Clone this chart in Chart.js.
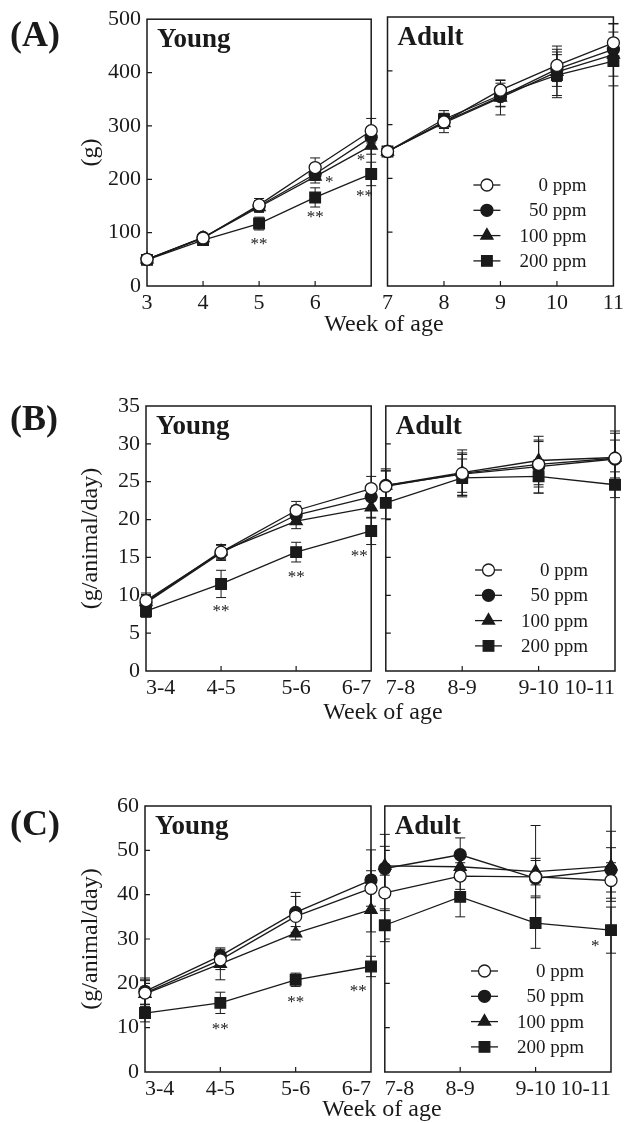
<!DOCTYPE html>
<html>
<head>
<meta charset="utf-8">
<script src="https://cdn.jsdelivr.net/npm/chart.js@4.4.1/dist/chart.umd.min.js"></script>
<style>
  html, body { margin: 0; padding: 0; background: #fff; }
  #page { position: relative; width: 628px; height: 1123px; overflow: hidden; }
  canvas { position: absolute; }
  .xlab {
    position: absolute; transform: translateX(-50%);
    font: 24px "Liberation Serif", "Times New Roman", serif;
    line-height: 1; color: #1a1a1a; white-space: nowrap;
  }
</style>
</head>
<body>
<div id="page">
  <canvas id="aYoung"></canvas>
  <canvas id="aAdult"></canvas>
  <canvas id="bYoung"></canvas>
  <canvas id="bAdult"></canvas>
  <canvas id="cYoung"></canvas>
  <canvas id="cAdult"></canvas>
  <div class="xlab" style="left:384px;top:311px">Week of age</div>
  <div class="xlab" style="left:383px;top:699px">Week of age</div>
  <div class="xlab" style="left:382px;top:1096px">Week of age</div>
</div>
<script>
// ── Data ──
const DOSES = ["0 ppm", "50 ppm", "100 ppm", "200 ppm"];

// (A) body weight, g
const weekYoung = [3, 4, 5, 6, 7];
const weekAdult = [7, 8, 9, 10, 11];
const weightYoung = [
  [50, 90, 152, 222, 291],
  [50, 91, 150, 210, 279],
  [50, 90, 148, 205, 263],
  [49, 86, 117, 166, 210]
];
const weightYoungSD = [
  [3, 4, 12, 18, 23],
  [3, 4, 10, 12, 18],
  [3, 4, 10, 12, 16],
  [3, 4, 12, 18, 22]
];
const weightAdult = [
  [250, 305, 364, 410, 452],
  [250, 305, 352, 403, 440],
  [250, 303, 350, 398, 430],
  [250, 310, 355, 392, 418]
];
const weightAdultSD = [
  [4, 12, 19, 30, 35],
  [4, 12, 18, 32, 32],
  [4, 18, 32, 48, 58],
  [4, 16, 22, 38, 28]
];
const weightStarsYoung = [
  { x: 5, y: 87, t: "**" },
  { x: 6, y: 136, t: "**" },
  { x: 6.25, y: 203, t: "*" },
  { x: 6.82, y: 244, t: "*" },
  { x: 6.88, y: 177, t: "**" }
];

// (B) food intake, g/animal/day
const periodYoung = ["3-4", "4-5", "5-6", "6-7"];
const periodAdult = ["7-8", "8-9", "9-10", "10-11"];
const foodYoung = [
  [9.3, 15.7, 21.2, 24.1],
  [9.0, 15.6, 20.6, 23.0],
  [9.1, 15.8, 19.8, 21.6],
  [7.9, 11.5, 15.7, 18.5]
];
const foodYoungSD = [
  [1.0, 1.0, 1.2, 1.6],
  [1.0, 1.0, 1.2, 1.5],
  [1.0, 0.9, 1.0, 1.4],
  [0.8, 1.8, 1.3, 1.8]
];
const foodAdult = [
  [24.4, 26.1, 27.3, 28.1],
  [24.5, 26.0, 27.0, 28.0],
  [24.5, 26.2, 27.8, 28.2],
  [22.2, 25.5, 25.7, 24.6]
];
const foodAdultSD = [
  [2.0, 2.5, 3.0, 3.3],
  [2.2, 2.8, 3.5, 2.5],
  [2.0, 3.0, 3.2, 3.5],
  [2.1, 2.5, 2.2, 1.7]
];
const foodStarsYoung = [
  { x: 1, y: 8.5, t: "**" },
  { x: 2, y: 12.9, t: "**" },
  { x: 2.84, y: 15.7, t: "**" }
];

// (C) water intake, g/animal/day
const waterYoung = [
  [17.8, 25.3, 35.1, 41.4],
  [18.2, 26.2, 36.0, 43.3],
  [17.6, 24.4, 31.3, 36.6],
  [13.3, 15.6, 20.8, 23.8]
];
const waterYoungSD = [
  [3.0, 2.2, 4.5, 4.0],
  [3.0, 1.5, 4.5, 6.8],
  [3.0, 3.6, 1.5, 5.0],
  [2.0, 2.4, 1.5, 2.3]
];
const waterAdult = [
  [40.4, 44.2, 44.0, 43.2],
  [45.9, 49.0, 43.7, 45.6],
  [46.5, 46.3, 45.2, 46.4],
  [33.1, 39.5, 33.6, 32.0]
];
const waterAdultSD = [
  [4.0, 3.0, 11.6, 4.0],
  [5.0, 3.8, 4.0, 5.0],
  [7.1, 3.0, 3.0, 7.9],
  [3.7, 4.5, 5.7, 5.2]
];
const waterStarsYoung = [
  { x: 1, y: 10.6, t: "**" },
  { x: 2, y: 16.7, t: "**" },
  { x: 2.83, y: 19.2, t: "**" }
];
const waterStarsAdult = [
  { x: 2.79, y: 29.3, t: "*" }
];

// ── Styles ──
const SERIF = "'Liberation Serif','Times New Roman',serif";
const INK = "#1a1a1a";
const MARKS = [
  { pointStyle: "circle", radius: 6, fill: "#fff" },
  { pointStyle: "circle", radius: 6, fill: INK },
  { pointStyle: "triangle", radius: 7, fill: INK },
  { pointStyle: "rect", radius: 7.5, fill: INK }
];

function buildDatasets(means, sds, xs) {
  return means.map((vals, k) => ({
    label: DOSES[k],
    data: xs ? vals.map((v, i) => ({ x: xs[i], y: v })) : vals,
    sd: sds[k],
    borderColor: INK,
    borderWidth: 1.3,
    pointStyle: MARKS[k].pointStyle,
    pointRadius: MARKS[k].radius,
    pointBackgroundColor: MARKS[k].fill,
    pointBorderColor: INK,
    pointBorderWidth: 1.3,
    tension: 0,
    clip: false
  }));
}

// ── Box, inward ticks, error bars, tags, stars, legend ──
const framePlugin = {
  id: "frame",
  beforeDatasetsDraw(chart) {
    const { ctx, chartArea: a, scales: { x, y } } = chart;
    ctx.save();
    ctx.strokeStyle = INK;
    ctx.lineWidth = 1.5;
    ctx.strokeRect(a.left, a.top, a.right - a.left, a.bottom - a.top);
    ctx.lineWidth = 1.2;
    ctx.beginPath();
    y.ticks.forEach((t) => {
      if (t.value <= y.min || t.value >= y.max) return;
      const py = y.getPixelForValue(t.value);
      ctx.moveTo(a.left, py);
      ctx.lineTo(a.left + 5, py);
    });
    x.ticks.forEach((t, i) => {
      if (i === 0 || i === x.ticks.length - 1) return;
      const px = x.getPixelForTick(i);
      ctx.moveTo(px, a.bottom);
      ctx.lineTo(px, a.bottom - 5);
    });
    ctx.stroke();
    // error bars
    ctx.lineWidth = 1;
    chart.data.datasets.forEach((ds, di) => {
      const meta = chart.getDatasetMeta(di);
      meta.data.forEach((pt, i) => {
        const v = typeof ds.data[i] === "object" ? ds.data[i].y : ds.data[i];
        const hi = y.getPixelForValue(v + ds.sd[i]);
        const lo = y.getPixelForValue(v - ds.sd[i]);
        ctx.beginPath();
        ctx.moveTo(pt.x, hi); ctx.lineTo(pt.x, lo);
        ctx.moveTo(pt.x - 5, hi); ctx.lineTo(pt.x + 5, hi);
        ctx.moveTo(pt.x - 5, lo); ctx.lineTo(pt.x + 5, lo);
        ctx.stroke();
      });
    });
    ctx.restore();
  },
  afterDraw(chart, args, o) {
    const { ctx, chartArea: a, scales: { x, y } } = chart;
    ctx.save();
    ctx.fillStyle = INK;
    ctx.textBaseline = "alphabetic";
    if (o.letter) {
      ctx.font = `bold 36px ${SERIF}`;
      ctx.textAlign = "left";
      ctx.fillText(o.letter, 10, o.letterY);
    }
    if (o.tag) {
      ctx.font = `bold 27px ${SERIF}`;
      ctx.textAlign = "left";
      ctx.fillText(o.tag, a.left + 10, a.top + 28);
    }
    (o.stars || []).forEach((s) => {
      ctx.font = `17px ${SERIF}`;
      ctx.textAlign = "center";
      ctx.fillText(s.t, x.getPixelForValue(s.x), y.getPixelForValue(s.y) + 9);
    });
    if (o.legend) {
      chart.data.datasets.forEach((ds, k) => {
        const ry = a.bottom - 101 + k * 25.3;
        ctx.strokeStyle = INK;
        ctx.lineWidth = 1.3;
        ctx.beginPath();
        ctx.moveTo(a.right - 140, ry);
        ctx.lineTo(a.right - 113, ry);
        ctx.stroke();
        ctx.fillStyle = MARKS[k].fill;
        Chart.helpers.drawPoint(ctx, {
          pointStyle: MARKS[k].pointStyle, radius: MARKS[k].radius,
          rotation: 0, borderWidth: 1.3
        }, a.right - 126.5, ry);
        ctx.fillStyle = INK;
        ctx.font = `19px ${SERIF}`;
        ctx.textAlign = "right";
        ctx.textBaseline = "middle";
        ctx.fillText(ds.label, a.right - 27, ry + 1);
        ctx.textBaseline = "alphabetic";
      });
    }
    ctx.restore();
  }
};

// ── Chart factory ──
function makeChart(p) {
  const cv = document.getElementById(p.id);
  cv.width = p.box.width;
  cv.height = p.box.height;
  cv.style.left = p.box.left + "px";
  cv.style.top = p.box.top + "px";
  const area = p.area;
  const yWidth = p.showY ? area.left - p.box.left : 0;
  const xScale = {
    type: p.xType,
    offset: false,
    ticks: {
      color: INK,
      font: { family: SERIF, size: 22, lineHeight: 1.2 },
      padding: 4,
      autoSkip: false,
      maxRotation: 0,
      align: p.xAlign || "center"
    },
    grid: { display: false, drawTicks: false },
    border: { display: false },
    afterFit: (s) => { s.height = p.box.top + p.box.height - area.bottom; }
  };
  if (p.xType === "linear") {
    xScale.min = p.xMin;
    xScale.max = p.xMax;
    xScale.ticks.stepSize = 1;
    if (p.hideX !== undefined) {
      const hide = p.hideX;
      xScale.ticks.callback = (v) => (v === hide ? "" : v);
    }
  }
  return new Chart(cv, {
    type: "line",
    data: { labels: p.labels, datasets: p.datasets },
    options: {
      responsive: false,
      animation: false,
      events: [],
      layout: {
        padding: {
          top: area.top - p.box.top,
          right: p.box.left + p.box.width - area.right,
          bottom: 0,
          left: p.showY ? 0 : area.left - p.box.left
        }
      },
      scales: {
        x: xScale,
        y: {
          min: 0,
          max: p.yMax,
          ticks: {
            display: p.showY,
            stepSize: p.yStep,
            color: INK,
            font: { family: SERIF, size: 22, lineHeight: 1.2 },
            padding: 6
          },
          grid: { display: false, drawTicks: false },
          border: { display: false },
          title: {
            display: p.showY,
            text: p.yTitle || "",
            color: INK,
            font: { family: SERIF, size: 24, lineHeight: 1.2 },
            padding: { top: 76, bottom: 0 }
          },
          afterFit: (s) => { s.width = yWidth; }
        }
      },
      plugins: {
        legend: { display: false },
        tooltip: { enabled: false },
        frame: p.frame
      }
    },
    plugins: [framePlugin]
  });
}

// ── (A) body weight ──
makeChart({
  id: "aYoung", box: { left: 0, top: 0, width: 380, height: 314 },
  area: { left: 147, right: 372, top: 17, bottom: 286 }, showY: true,
  yMax: 500, yStep: 100, yTitle: "(g)",
  xType: "linear", xMin: 3, xMax: 7, hideX: 7,
  datasets: buildDatasets(weightYoung, weightYoungSD, weekYoung),
  frame: { tag: "Young", letter: "(A)", letterY: 46, stars: weightStarsYoung }
});
makeChart({
  id: "aAdult", box: { left: 378, top: 0, width: 250, height: 314 },
  area: { left: 387, right: 617, top: 17, bottom: 286 }, showY: false,
  yMax: 500, yStep: 100,
  xType: "linear", xMin: 7, xMax: 11,
  datasets: buildDatasets(weightAdult, weightAdultSD, weekAdult),
  frame: { tag: "Adult", legend: true }
});

// ── (B) food intake ──
makeChart({
  id: "bYoung", box: { left: 0, top: 385, width: 380, height: 314 },
  area: { left: 146, right: 372, top: 406, bottom: 671 }, showY: true,
  yMax: 35, yStep: 5, yTitle: "(g/animal/day)",
  xType: "category", xAlign: "inner", labels: periodYoung,
  datasets: buildDatasets(foodYoung, foodYoungSD),
  frame: { tag: "Young", letter: "(B)", letterY: 45, stars: foodStarsYoung }
});
makeChart({
  id: "bAdult", box: { left: 377, top: 385, width: 251, height: 314 },
  area: { left: 385, right: 615, top: 406, bottom: 671 }, showY: false,
  yMax: 35, yStep: 5,
  xType: "category", xAlign: "inner", labels: periodAdult,
  datasets: buildDatasets(foodAdult, foodAdultSD),
  frame: { tag: "Adult", legend: true }
});

// ── (C) water intake ──
makeChart({
  id: "cYoung", box: { left: 0, top: 785, width: 380, height: 315 },
  area: { left: 145, right: 371, top: 806, bottom: 1072 }, showY: true,
  yMax: 60, yStep: 10, yTitle: "(g/animal/day)",
  xType: "category", xAlign: "inner", labels: periodYoung,
  datasets: buildDatasets(waterYoung, waterYoungSD),
  frame: { tag: "Young", letter: "(C)", letterY: 50, stars: waterStarsYoung }
});
makeChart({
  id: "cAdult", box: { left: 376, top: 785, width: 252, height: 315 },
  area: { left: 383, right: 611, top: 806, bottom: 1072 }, showY: false,
  yMax: 60, yStep: 10,
  xType: "category", xAlign: "inner", labels: periodAdult,
  datasets: buildDatasets(waterAdult, waterAdultSD),
  frame: { tag: "Adult", legend: true, stars: waterStarsAdult }
});
</script>
</body>
</html>
